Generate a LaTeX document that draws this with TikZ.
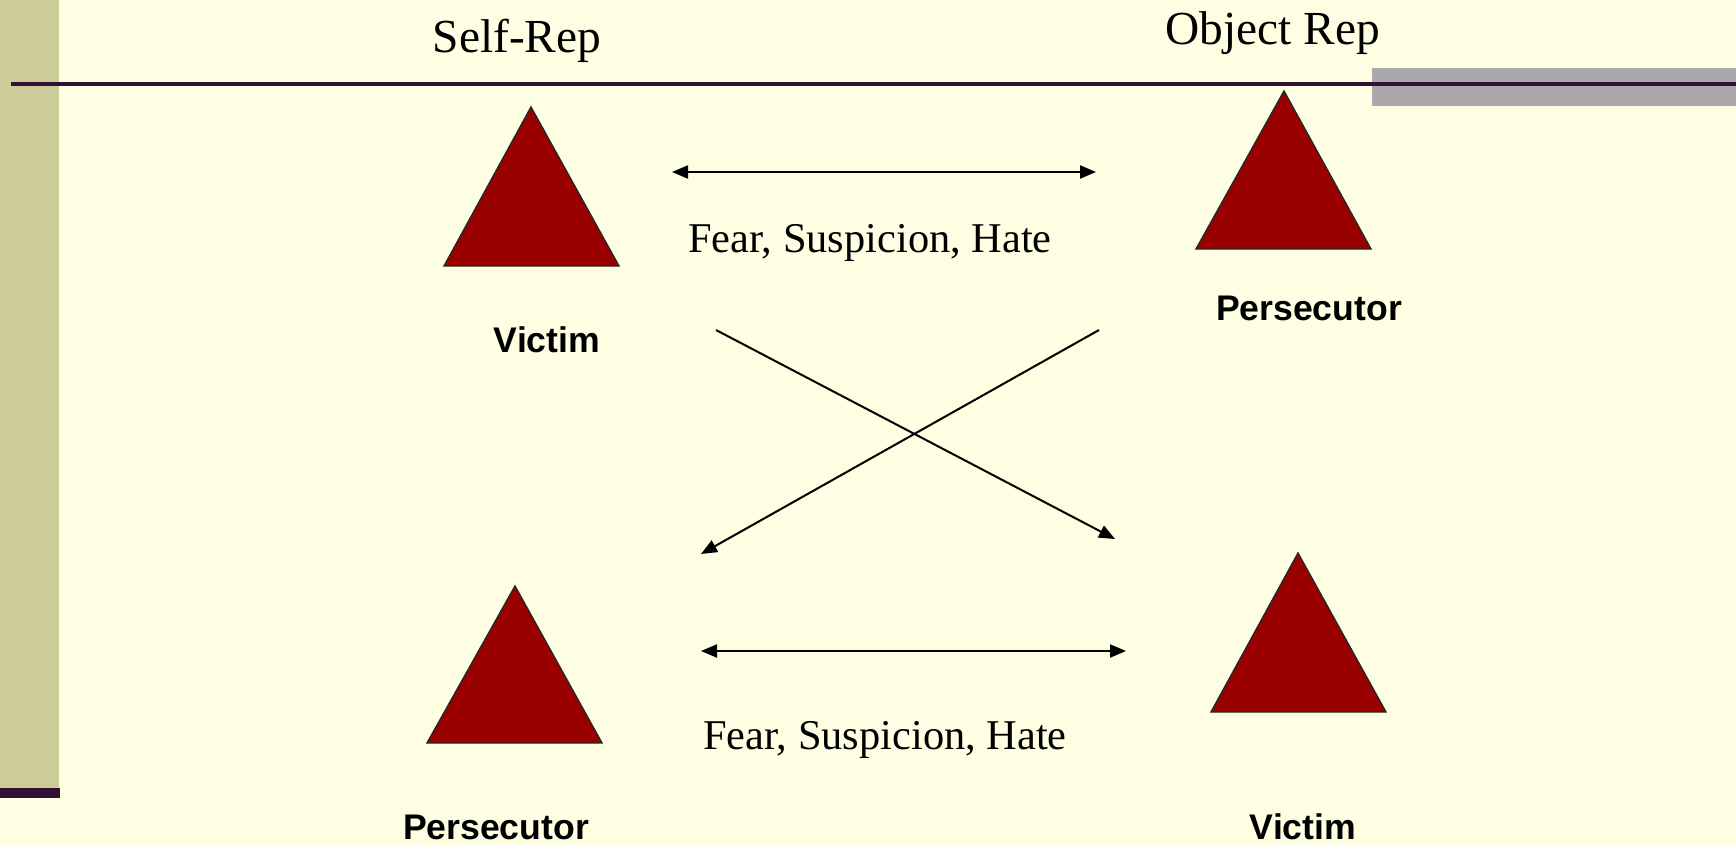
\documentclass[tikz,border=0pt]{standalone}
\usepackage{fontspec}
\setmainfont{Liberation Serif}
\newfontfamily\labelfont{Liberation Sans}
\usetikzlibrary{arrows.meta}
\definecolor{paper}{RGB}{254,254,226}
\definecolor{sidebar}{RGB}{204,204,153}
\definecolor{rule}{RGB}{52,16,52}
\definecolor{greybar}{RGB}{170,168,172}
\definecolor{trired}{RGB}{155,0,0}
\tikzset{
  tri/.style={fill=trired, draw=black!85, line width=0.7pt, line join=miter},
  header/.style={font=\fontsize{23.7pt}{28pt}\selectfont, anchor=base, inner sep=0pt},
  feeling/.style={font=\fontsize{21.2pt}{25pt}\selectfont, anchor=base, inner sep=0pt},
  role/.style={font=\labelfont\bfseries\fontsize{17.8pt}{21pt}\selectfont, anchor=base, inner sep=0pt},
  link/.style={line width=1pt, -{Triangle[length=8pt,width=6.5pt]}},
  twoway/.style={line width=1pt, {Triangle[length=8pt,width=6.5pt]}-{Triangle[length=8pt,width=6.5pt]}}
}
\begin{document}
\begin{tikzpicture}[x=0.5pt, y=-0.5pt]
  % page
  \fill[paper] (0,0) rectangle (1736,846);
  \useasboundingbox (0,0) rectangle (1736,846);
  % left sidebar and its foot
  \fill[sidebar] (0,0) rectangle (59,788);
  \fill[rule] (0,788) rectangle (60,798);
  % grey tab at the right, then the title rule over it
  \fill[greybar] (1372,68) rectangle (1736,106);
  \draw[rule, line width=1.8pt] (11,84) -- (1736,84);

  % column headings
  \node[header] (selfrep) at (517,52) {Self-Rep};
  \node[header] (objrep) at (1273,44) {Object Rep};

  % triangles
  \draw[tri] (531,107) -- (619,266) -- (444,266) -- cycle;
  \draw[tri] (1284,91) -- (1371,249) -- (1196,249) -- cycle;
  \draw[tri] (515,586) -- (602,743) -- (427,743) -- cycle;
  \draw[tri] (1298,553) -- (1386,712) -- (1211,712) -- cycle;

  % role labels
  \node[role] (victimA) at (547,352) {Victim};
  \node[role] (persA) at (1309,320) {Persecutor};
  \node[role] (persB) at (496,839) {Persecutor};
  \node[role] (victimB) at (1303,839) {Victim};

  % feeling labels
  \node[feeling] (fearA) at (870,252) {Fear, Suspicion, Hate};
  \node[feeling] (fearB) at (885,749) {Fear, Suspicion, Hate};

  % connector end points
  \coordinate (topL) at (672,172);
  \coordinate (topR) at (1096,172);
  \coordinate (botL) at (701,651);
  \coordinate (botR) at (1126,651);
  \coordinate (crossAs) at (716,330);
  \coordinate (crossAe) at (1115,539);
  \coordinate (crossBs) at (1099,330);
  \coordinate (crossBe) at (701,554);

  % connectors
  \draw[twoway] (topL) -- (topR);
  \draw[twoway] (botL) -- (botR);
  \draw[link] (crossAs) -- (crossAe);
  \draw[link] (crossBs) -- (crossBe);
\end{tikzpicture}
\end{document}
